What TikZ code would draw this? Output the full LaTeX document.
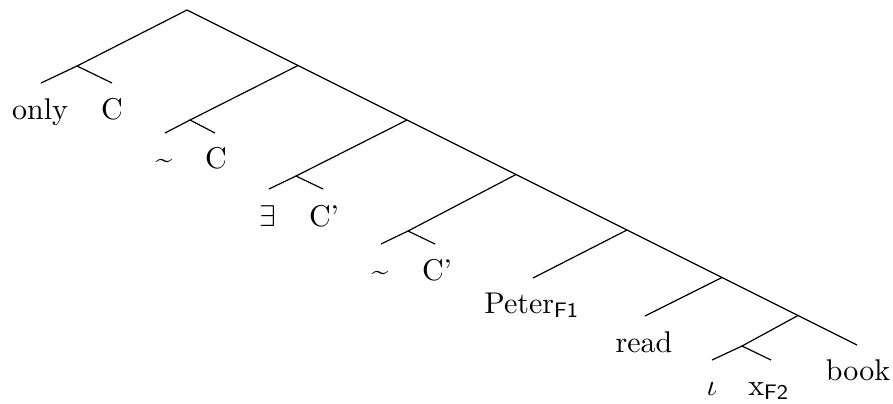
\documentclass[tikz,border=0pt]{standalone}
\usepackage{amssymb}
\begin{document}
\begin{tikzpicture}[x=0.3333pt,y=-0.3333pt,line width=0.4pt,
  leaf/.style={anchor=base,inner sep=0pt,font=\normalsize}]
\useasboundingbox (0,0) rectangle (893,403);
% spine
\coordinate (r) at (187,10);
\coordinate (n1) at (298,65.5);
\coordinate (n2) at (407,120);
\coordinate (n3) at (516,174.5);
\coordinate (n4) at (627,230);
\coordinate (n5) at (722,277.5);
\coordinate (n6) at (798,315.5);
\coordinate (e7) at (857,345);
% left subtrees
\coordinate (a1) at (77,66);
\coordinate (a1l) at (41,83);
\coordinate (a1r) at (112,83);
\coordinate (a2) at (190,120);
\coordinate (a2l) at (165,133);
\coordinate (a2r) at (215,133);
\coordinate (a3) at (296,176);
\coordinate (a3l) at (269,189);
\coordinate (a3r) at (323,189);
\coordinate (a4) at (408,231);
\coordinate (a4l) at (381,244);
\coordinate (a4r) at (435,244);
\coordinate (e5) at (533,278);
\coordinate (e6) at (645,316);
\coordinate (a7) at (742,346);
\coordinate (a7l) at (712,360);
\coordinate (a7r) at (771,360);
% edges
\draw (r) -- (n1) -- (n2) -- (n3) -- (n4) -- (n5) -- (n6) -- (e7);
\draw (r) -- (a1); \draw (a1l) -- (a1) -- (a1r);
\draw (n1) -- (a2); \draw (a2l) -- (a2) -- (a2r);
\draw (n2) -- (a3); \draw (a3l) -- (a3) -- (a3r);
\draw (n3) -- (a4); \draw (a4l) -- (a4) -- (a4r);
\draw (n4) -- (e5);
\draw (n5) -- (e6);
\draw (n6) -- (a7); \draw (a7l) -- (a7) -- (a7r);
% labels
\node[leaf] (only) at (40,119) {only};
\node[leaf] (c1) at (112,119) {C};
\node[leaf] (neg1) at (164,168) {\textasciitilde};
\node[leaf] (c2) at (216,168) {C};
\node[leaf] (ex) at (268,226) {$\exists$};
\node[leaf] (c3) at (324,226) {C'};
\node[leaf] (neg2) at (380,280) {\textasciitilde};
\node[leaf] (c4) at (437,280) {C'};
\node[leaf] (peter) at (532,313) {Peter\textsubscript{\sffamily F1}};
\node[leaf] (read) at (644,352) {read};
\node[leaf] (iota) at (712,395) {$\iota$};
\node[leaf] (x) at (769,395) {x\textsubscript{\sffamily F2}};
\node[leaf] (book) at (858,380) {book};
\end{tikzpicture}
\end{document}
